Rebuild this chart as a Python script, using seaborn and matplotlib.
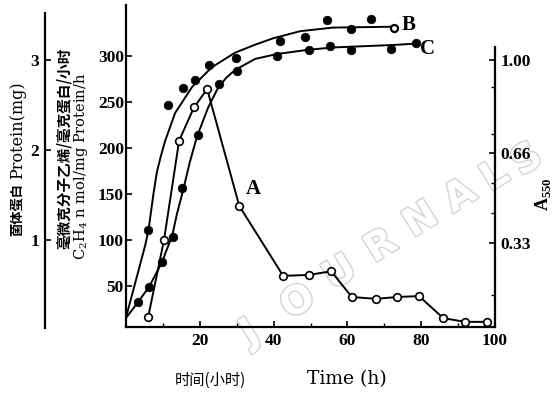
import matplotlib
matplotlib.use("Agg")
import matplotlib.pyplot as plt
import matplotlib.patheffects as pe
import seaborn as sns

# ---------------- data ----------------
# Curve A: nitrogenase activity (C2H4 nmol/mg protein/h), open circles
time_A = [6.0, 10.3, 14.4, 18.4, 22.0, 30.7, 42.6, 49.6, 55.6, 61.2, 67.8, 73.5, 79.4, 86.0, 91.9, 97.8]
c2h4_A = [16, 100, 208, 244, 264, 137, 61, 62, 66, 38, 36, 38, 39, 15, 11, 11]

# Curve B: protein (mg), filled dots + hand-drawn trend
time_B_pts = [6.0, 11.5, 15.4, 18.6, 22.6, 29.9, 41.7, 48.5, 54.4, 61.0, 66.5]
protein_B_pts = [1.11, 2.50, 2.69, 2.78, 2.94, 3.02, 3.21, 3.26, 3.44, 3.34, 3.46]
time_B_end = [72.7]
protein_B_end = [3.36]
time_B_curve = [0, 3.0, 5.2, 6.1, 6.8, 7.5, 8.4, 9.5, 10.6, 13.3, 17.9, 23.3, 29.5, 35.0, 39.8, 47.2, 56.1, 72.7]
protein_B_curve = [0.14, 0.60, 0.94, 1.11, 1.32, 1.53, 1.76, 1.94, 2.10, 2.41, 2.70, 2.92, 3.08, 3.17, 3.24, 3.32, 3.36, 3.37]

# Curve C: A550, filled dots + hand-drawn trend
time_C_pts = [3.3, 6.3, 9.7, 12.7, 15.1, 19.6, 25.2, 30.0, 40.8, 49.7, 55.3, 60.9, 71.7, 78.6]
a550_C_pts = [0.115, 0.170, 0.261, 0.353, 0.530, 0.725, 0.911, 0.960, 1.016, 1.037, 1.052, 1.037, 1.040, 1.061]
time_C_curve = [0, 3.3, 6.2, 9.8, 10.8, 12.5, 13.8, 15.5, 17.3, 19.2, 22.2, 24.9, 27.1, 29.5, 35.0, 40.9, 49.1, 56.1, 72.4, 78.6]
a550_C_curve = [0.055, 0.114, 0.168, 0.260, 0.297, 0.355, 0.436, 0.524, 0.626, 0.718, 0.824, 0.897, 0.934, 0.963, 1.004, 1.022, 1.037, 1.046, 1.055, 1.060]

x_ticks = [20, 40, 60, 80, 100]
x_minor_ticks = [10, 30, 50, 70, 90]
c2h4_ticks = [50, 100, 150, 200, 250, 300]
protein_ticks = [1, 2, 3]
a550_ticks = [0.33, 0.66, 1.00]
a550_tick_labels = ["0.33", "0.66", "1.00"]
a550_minor_ticks = [0.14, 0.44, 0.55, 0.73, 0.90]

# ---------------- styling ----------------
sns.set_theme(style="ticks", rc={
    "axes.edgecolor": "black", "xtick.color": "black", "ytick.color": "black",
    "text.color": "black", "axes.labelcolor": "black",
})
plt.rcParams["font.family"] = ["Liberation Serif", "Noto Sans CJK SC"]

W, H = 554, 393
fig = plt.figure(figsize=(W / 100, H / 100), dpi=100)
fig.patch.set_facecolor("white")

def fx(px):
    return px / W

def fy(py):
    return 1 - py / H

L, R, T, B = 126, 495, 5, 327
ax = fig.add_axes([fx(L), fy(B), (R - L) / W, (B - T) / H])
ax.patch.set_visible(False)
ax_p = ax.twinx()
ax_a = ax.twinx()

LW = 1.4
# curve A
sns.lineplot(x=time_A, y=c2h4_A, ax=ax, color="black", lw=LW, errorbar=None,
             marker="o", markersize=5.5, markerfacecolor="white",
             markeredgecolor="black", markeredgewidth=1.2, zorder=3)
# curve B
sns.lineplot(x=time_B_curve, y=protein_B_curve, ax=ax_p, color="black", lw=LW,
             errorbar=None, zorder=2)
sns.scatterplot(x=time_B_pts, y=protein_B_pts, ax=ax_p, color="black", s=38,
                edgecolor="black", linewidth=0.5, zorder=3)
sns.scatterplot(x=time_B_end, y=protein_B_end, ax=ax_p, color="white", s=26,
                edgecolor="black", linewidth=1.6, zorder=4)
# curve C
sns.lineplot(x=time_C_curve, y=a550_C_curve, ax=ax_a, color="black", lw=LW,
             errorbar=None, zorder=2)
sns.scatterplot(x=time_C_pts, y=a550_C_pts, ax=ax_a, color="black", s=38,
                edgecolor="black", linewidth=0.5, zorder=3)

for a in (ax, ax_p, ax_a):
    a.set_xlabel("")
    a.set_ylabel("")

ax.set_xlim(0, 100)
ax.set_ylim(5.4, 355.4)
ax_p.set_ylim(0.033, 3.611)
ax_a.set_ylim(0.022, 1.2015)

# spines
ax.spines["top"].set_visible(False)
ax.spines["right"].set_visible(False)
ax.spines["left"].set_linewidth(1.6)
ax.spines["bottom"].set_linewidth(1.6)

for s in ("top", "bottom", "right"):
    ax_p.spines[s].set_visible(False)
ax_p.spines["left"].set_visible(True)
ax_p.spines["left"].set_position(("axes", (45 - L) / (R - L)))
ax_p.spines["left"].set_bounds(0.02, 3.52)
ax_p.spines["left"].set_linewidth(1.6)

for s in ("top", "bottom", "left"):
    ax_a.spines[s].set_visible(False)
ax_a.spines["right"].set_visible(True)
ax_a.spines["right"].set_bounds(0.022, 1.048)
ax_a.spines["right"].set_linewidth(1.6)

# ticks
tick_font = dict(fontsize=12.5, fontweight="bold")
ax.set_xticks(x_ticks, labels=[str(t) for t in x_ticks], **tick_font)
ax.set_xticks(x_minor_ticks, minor=True)
ax.tick_params(axis="x", which="major", direction="in", length=4, width=1.2, pad=4,
               bottom=True, top=False)
ax.tick_params(axis="x", which="minor", direction="in", length=3, width=1.0,
               bottom=True, top=False)
ax.set_yticks(c2h4_ticks, labels=[str(t) for t in c2h4_ticks], **tick_font)
ax.tick_params(axis="y", which="major", direction="in", length=4, width=1.2, pad=1.5,
               left=True, right=False)

ax_p.yaxis.set_label_position("left")
ax_p.set_yticks(protein_ticks, labels=[str(t) for t in protein_ticks], **tick_font)
ax_p.tick_params(axis="y", which="both", left=True, right=False, labelleft=True,
                 labelright=False, direction="in", length=4, width=1.2, pad=4)

ax_a.set_yticks(a550_ticks, labels=a550_tick_labels, **tick_font)
ax_a.set_yticks(a550_minor_ticks, minor=True)
ax_a.tick_params(axis="y", which="major", right=True, left=False, labelright=True,
                 labelleft=False, direction="in", length=4, width=1.2, pad=4)
ax_a.tick_params(axis="y", which="minor", right=True, left=False, direction="in",
                 length=3, width=1.0)

# curve labels
lab = dict(fontsize=15, fontweight="bold", ha="center", va="center")
ax.text(34.6, 155, "A", **lab)
ax_p.text(76.7, 3.39, "B", **lab)
ax_a.text(81.7, 1.042, "C", **lab)

# axis titles
cjk = ["Noto Sans CJK SC", "DejaVu Sans"]
fig.text(fx(18), fy(130), "Protein(mg)", rotation=90, ha="center", va="center",
         fontsize=11.5, family="DejaVu Serif")
fig.text(fx(17), fy(210), "菌体蛋白", rotation=90, ha="center", va="center",
         fontsize=9.5, fontweight="bold", family=cjk)
fig.text(fx(63.5), fy(148), "毫微克分子乙烯/毫克蛋白/小时", rotation=90, ha="center",
         va="center", fontsize=10.5, fontweight="bold", family=cjk)
fig.text(fx(81.5), fy(166), r"C$_\mathregular{2}$H$_\mathregular{4}$ n mol/mg Protein/h",
         rotation=90, ha="center", va="center", fontsize=10.5, family="DejaVu Serif")
fig.text(fx(543), fy(194), r"A$_\mathregular{550}$", rotation=90, ha="center", va="center",
         fontsize=13, fontweight="bold")
fig.text(fx(210), fy(380), "时间(小时)", ha="center", va="center", fontsize=11,
         family=cjk)
fig.text(fx(347), fy(379), "Time (h)", ha="center", va="center", fontsize=13.5,
         family="DejaVu Serif")

# faint watermark of the scanned source
wm_letters = "JOURNALS"
wm_pos = [(250, 333), (298, 302), (340, 273), (381, 246), (421, 220), (460, 196),
          (495, 176), (527, 160)]
for ch, (px, py) in zip(wm_letters, wm_pos):
    fig.text(fx(px), fy(py), ch, rotation=32, ha="center", va="center", fontsize=28,
             fontweight="bold", family="DejaVu Sans", color="white", zorder=-1,
             path_effects=[pe.withStroke(linewidth=2.0, foreground="#d4d4d4")])

fig.savefig("out.png", dpi=100, facecolor="white")
